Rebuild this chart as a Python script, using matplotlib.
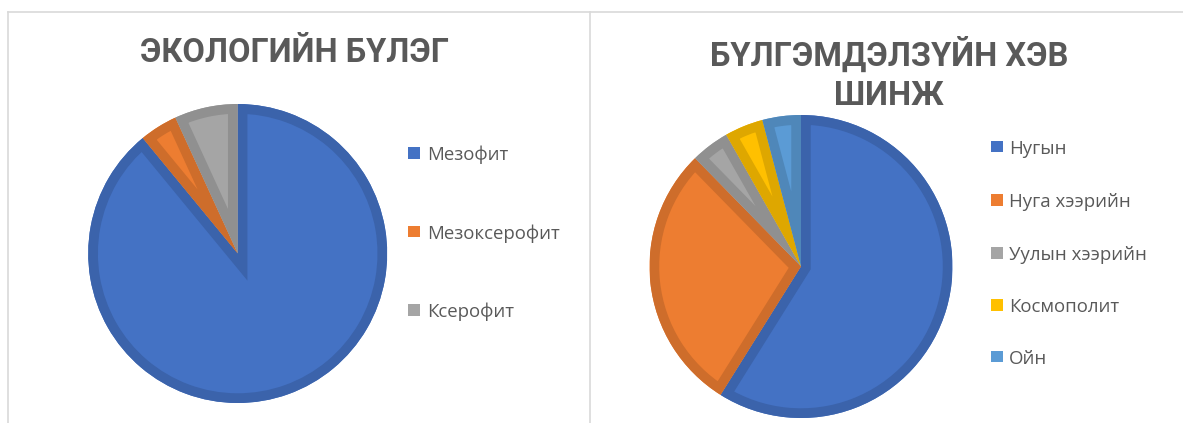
import matplotlib
matplotlib.use("Agg")
import matplotlib.pyplot as plt
from matplotlib.patches import Rectangle, Wedge
from matplotlib.lines import Line2D
from matplotlib.colors import to_rgb

W, H = 1183, 423

# ---- data ----
eco_title = "ЭКОЛОГИЙН БҮЛЭГ"
eco_labels = ["Мезофит", "Мезоксерофит", "Ксерофит"]
eco_values = [65, 3, 5]
eco_colors = ["#4472C4", "#ED7D31", "#A5A5A5"]

geo_title = "БҮЛГЭМДЭЛЗҮЙН ХЭВ\nШИНЖ"
geo_labels = ["Нугын", "Нуга хээрийн", "Уулын хээрийн", "Космополит", "Ойн"]
geo_values = [43, 21, 3, 3, 3]
geo_colors = ["#4472C4", "#ED7D31", "#A5A5A5", "#FFC000", "#5B9BD5"]

TXT = "#595959"
plt.rcParams['font.family'] = ['Roboto', 'DejaVu Sans']

fig = plt.figure(figsize=(W / 100, H / 100), dpi=100)
fig.patch.set_facecolor("white")


def fx(x):
    return x / W


def fy(y):
    return 1 - y / H


def darker(c, f=0.87):
    r, g, b = to_rgb(c)
    return (r * f, g * f, b * f)


def draw_pie(cx, cy, r, values, colors):
    ax = fig.add_axes([fx(cx - r), fy(cy + r), 2 * r / W, 2 * r / H])
    wedges, _ = ax.pie(values, colors=colors, startangle=90, counterclock=False,
                       radius=1, wedgeprops=dict(linewidth=0))
    ax.set_xlim(-1, 1)
    ax.set_ylim(-1, 1)
    ax.axis("off")
    # thick darker inner border, clipped to each wedge (Excel style)
    for w, c in zip(wedges, colors):
        border = Wedge(w.center, w.r, w.theta1, w.theta2, facecolor="none",
                       edgecolor=darker(c), linewidth=14, joinstyle="miter")
        ax.add_patch(border)
        clip = Wedge(w.center, w.r, w.theta1, w.theta2, transform=ax.transData)
        border.set_clip_on(True)
        border.set_clip_path(clip)
    return ax


def draw_legend(x_sq, x_txt, ys, labels, colors, sq=11.5):
    for y, lab, c in zip(ys, labels, colors):
        fig.add_artist(Rectangle((fx(x_sq), fy(y + sq / 2)), sq / W, sq / H,
                                 transform=fig.transFigure, facecolor=c,
                                 edgecolor="none"))
        fig.text(fx(x_txt), fy(y), lab, fontsize=13.4, color=TXT,
                 family=['Open Sans', 'DejaVu Sans'],
                 ha="left", va="center_baseline")


# ---- panel borders ----
bc = "#D9D9D9"
fig.add_artist(Line2D([fx(8), fx(8)], [fy(12), 0], color=bc, lw=1.2, transform=fig.transFigure))
fig.add_artist(Line2D([fx(8), 1], [fy(12), fy(12)], color=bc, lw=1.2, transform=fig.transFigure))
fig.add_artist(Line2D([fx(590), fx(590)], [fy(12), 0], color=bc, lw=1.2, transform=fig.transFigure))

# ---- left chart ----
draw_pie(237.7, 253.5, 149.5, eco_values, eco_colors)
fig.text(fx(295), fy(53), eco_title, fontsize=23.5, fontweight="bold", color=TXT,
         ha="center", va="center")
draw_legend(408, 427, [153, 231.5, 310], eco_labels, eco_colors)

# ---- right chart ----
draw_pie(801, 266.5, 151.5, geo_values, geo_colors)
fig.text(fx(889), fy(74), geo_title, fontsize=23.5, fontweight="bold", color=TXT,
         ha="center", va="center", linespacing=1.28)
draw_legend(991, 1009, [146.5, 200, 253, 305, 356.5], geo_labels, geo_colors)

fig.savefig("out.png", dpi=100, facecolor="white")
